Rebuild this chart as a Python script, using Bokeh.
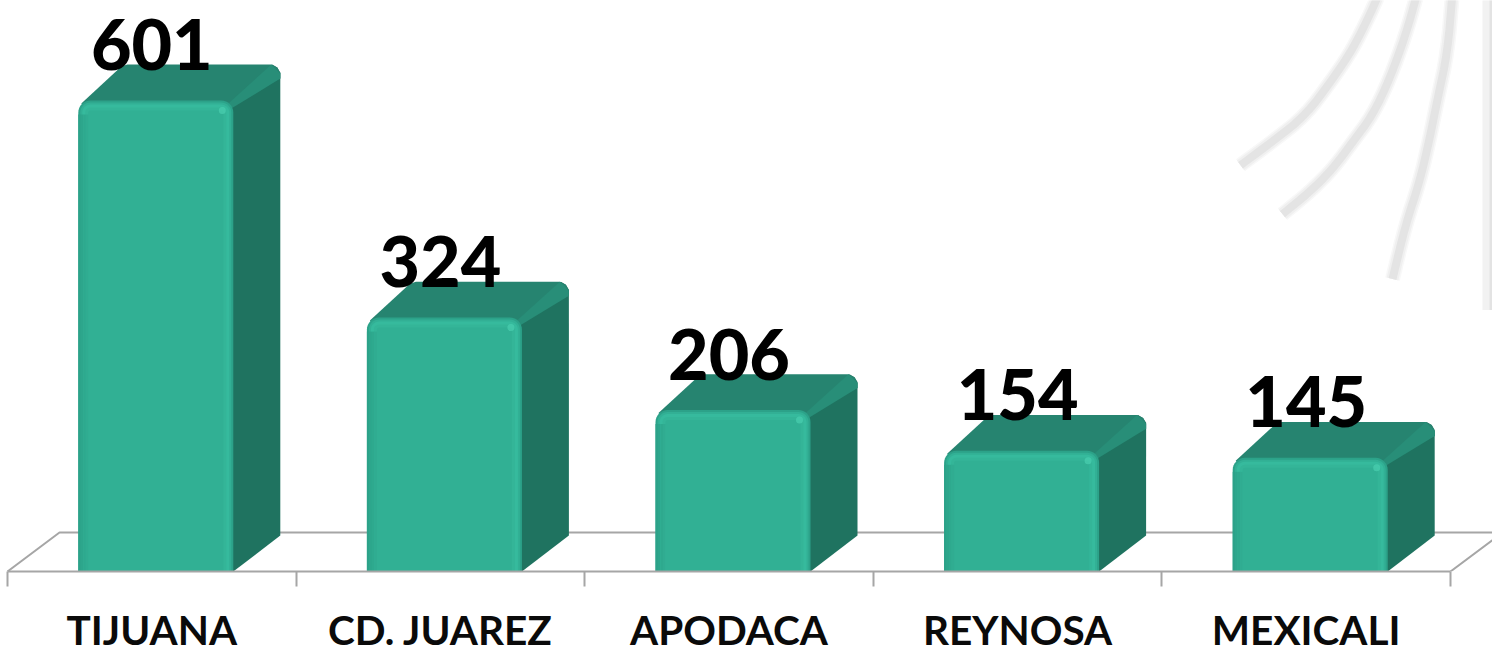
from bokeh.plotting import figure
from bokeh.models import Range1d, LinearAxis, FixedTicker
from bokeh.core.properties import value
from bokeh.embed import file_html
from bokeh.resources import INLINE
import math

categories = ["TIJUANA", "CD. JUAREZ", "APODACA", "REYNOSA", "MEXICALI"]
values = [601, 324, 206, 154, 145]
watermark_curves = [
    [(1387, 0), (1377, 23), (1360, 57), (1340, 87), (1313, 123), (1283, 147), (1248, 173)],
    [(1425, 0), (1413, 43), (1397, 87), (1380, 123), (1360, 150), (1340, 177), (1317, 200), (1290, 222)],
    [(1460, 0), (1455, 60), (1445, 107), (1437, 147), (1427, 190), (1413, 233), (1400, 287)],
]

FIG_W, FIG_H = 1492, 656
PAGE = 8
CAT_PX = 288.6
BASE_Y = 580           # page y of the zero line
CAT0_X = 159.3         # page x of the first category centre
PX_PER_UNIT = 0.785    # vertical pixels per value unit
FRAME_H = BASE_Y - PAGE
ymax = FRAME_H / PX_PER_UNIT

x0 = (PAGE - CAT0_X) / CAT_PX
x1 = (PAGE + FIG_W - CAT0_X) / CAT_PX

p = figure(width=FIG_W, height=FIG_H, output_backend="svg", toolbar_location=None,
           x_range=Range1d(x0, x1), y_range=Range1d(0, ymax),
           x_axis_location=None, y_axis_location=None,
           min_border_left=0, min_border_right=0, min_border_top=0,
           min_border_bottom=FIG_H - FRAME_H,
           background_fill_color="white", border_fill_color="white", outline_line_color=None)
p.grid.visible = False

GRAY = "#A6A6A6"
ax = LinearAxis(ticker=FixedTicker(ticks=list(range(len(categories))),
                                   minor_ticks=[i - 0.5 for i in range(len(categories) + 1)]),
                bounds=(-0.5, len(categories) - 0.5))
ax.major_label_overrides = {i: c for i, c in enumerate(categories)}
ax.axis_line_color = GRAY
ax.axis_line_width = 2
ax.major_tick_line_color = None
ax.major_tick_out = 0
ax.major_tick_in = 0
ax.minor_tick_line_color = GRAY
ax.minor_tick_line_width = 2
ax.minor_tick_out = 15
ax.minor_tick_in = 0
ax.major_label_standoff = 18
ax.major_label_text_font = "Lato"
ax.major_label_text_font_style = "bold"
ax.major_label_text_font_size = "40.5px"
ax.major_label_text_color = "#0A0A0A"
p.add_layout(ax, "below")


def dx(px):
    return px / CAT_PX


def dy(px):
    return px / PX_PER_UNIT


def page_pt(x, y):
    return (x - CAT0_X) / CAT_PX, (BASE_Y - y) / PX_PER_UNIT


def chaikin(pts):
    out = [pts[0]]
    for a, b in zip(pts[:-1], pts[1:]):
        out.append((a[0] * .75 + b[0] * .25, a[1] * .75 + b[1] * .25))
        out.append((a[0] * .25 + b[0] * .75, a[1] * .25 + b[1] * .75))
    out.append(pts[-1])
    return out


# watermark
xs, ys = [], []
for c in watermark_curves:
    pts = [page_pt(*q) for q in chaikin(chaikin(c))]
    xs.append([q[0] for q in pts])
    ys.append([q[1] for q in pts])
for width, col in [(15, "#F8F8F8"), (12, "#F0F0F0"), (8, "#E4E4E4")]:
    p.multi_line(xs, ys, line_color=col, line_width=width, line_cap="butt", line_join="round")
bx0, by0 = page_pt(1490, 0)
bx1, by1 = page_pt(1510, 318)
p.quad(left=[bx0], right=[bx1], top=[by0], bottom=[by1], fill_color="#F2F2F2", line_color=None)
bx2, _ = page_pt(1497, 0)
p.quad(left=[bx2], right=[bx1], top=[by0], bottom=[by1], fill_color="#E3E3E3", line_color=None)

# floor
FLOOR_DX, FLOOR_DY = 52, 39
fl = -0.5
fr = len(categories) - 0.5
p.line([fl, fl + dx(FLOOR_DX), fr + dx(FLOOR_DX), fr],
       [0, dy(FLOOR_DY), dy(FLOOR_DY), 0], line_color=GRAY, line_width=2)


def rounded(l, r, t, b, rad):
    """Outline with rounded upper corners, in pixels relative to the data point."""
    px, py = [l], [b]
    for a in range(0, 9):
        th = math.pi / 2 * a / 8
        px.append(l + rad - rad * math.cos(th))
        py.append(t - rad + rad * math.sin(th))
    for a in range(0, 9):
        th = math.pi / 2 * a / 8
        px.append(r - rad + rad * math.sin(th))
        py.append(t - rad + rad * math.cos(th))
    px.append(r)
    py.append(b)
    return px, py


def mix(a, b, t):
    ca = [int(a[i:i + 2], 16) for i in (1, 3, 5)]
    cb = [int(b[i:i + 2], 16) for i in (1, 3, 5)]
    return "#%02X%02X%02X" % tuple(round(u + (v - u) * t) for u, v in zip(ca, cb))


BAR_PX = 155
CENTER_OFF = 4
DEPTH_X, DEPTH_Y = 47, 36
FRONT = "#31B094"
EDGE = "#2CA289"
GLOW = "#36BA9D"
SIDE = "#1F7360"
TOPF = "#268470"
TOPBAND = "#288E78"

for i, v in enumerate(values):
    l = i + dx(CENTER_OFF - BAR_PX / 2)
    r = i + dx(CENTER_OFF + BAR_PX / 2)
    w = BAR_PX
    # side panel, rounded at its upper rear corner; runs under the front face
    side_x = [r - dx(6), r, r + dx(DEPTH_X), r + dx(DEPTH_X), r + dx(DEPTH_X - 3), r + dx(DEPTH_X - 8), r - dx(6)]
    side_y = [0, 0, dy(DEPTH_Y), v + dy(DEPTH_Y - 8), v + dy(DEPTH_Y - 3), v + dy(DEPTH_Y), v - dy(6)]
    p.patch(side_x, side_y, fill_color=SIDE, line_color=None)
    # top face
    top_x = [l + dx(3), l + dx(DEPTH_X - 4), l + dx(DEPTH_X + 2), r + dx(DEPTH_X - 9), r + dx(DEPTH_X - 3), r + dx(DEPTH_X),
             r + dx(DEPTH_X), r - dx(6), l + dx(6)]
    top_y = [v - dy(3), v + dy(DEPTH_Y - 2), v + dy(DEPTH_Y), v + dy(DEPTH_Y), v + dy(DEPTH_Y - 3), v + dy(DEPTH_Y - 9),
             v + dy(DEPTH_Y - 14), v - dy(6), v - dy(6)]
    p.patch(top_x, top_y, fill_color=TOPF, line_color=None)
    band_x = [r - dx(6), r + dx(DEPTH_X - 9), r + dx(DEPTH_X), r + dx(DEPTH_X), r - dx(2)]
    band_y = [v - dy(4), v + dy(DEPTH_Y), v + dy(DEPTH_Y - 9), v + dy(DEPTH_Y - 14), v - dy(8)]
    p.patch(band_x, band_y, fill_color=TOPBAND, line_color=None)
    # front face: nested outlines to suggest the bevel
    steps = [(0, EDGE), (2, mix(EDGE, GLOW, .6)), (4, GLOW), (7, mix(GLOW, FRONT, .5)), (10, FRONT)]
    for inset, col in steps:
        px, py = rounded(0, w - 2 * inset, -inset, -10000, max(12 - inset, 2))
        fx = [l + dx(inset + a) for a in px]
        fy = [max(v + dy(b), 0) for b in py]
        p.patch(fx, fy, fill_color=col, line_color=None)
    # left shade
    for j, t in enumerate([0, .25, .5, .75]):
        p.quad(left=[l + dx(j * 2.5)], right=[l + dx((j + 1) * 2.5)], top=[v - dy(14)], bottom=[0],
               fill_color=mix(EDGE, FRONT, t), line_color=None)
    # corner highlight
    hx = r - dx(11)
    hy = v - dy(10)
    p.scatter([hx], [hy], size=7, marker="circle", fill_color="#4FD3B4", fill_alpha=0.6, line_color=None)

p.text(x=list(range(len(values))), y=values, text=[str(v) for v in values],
       text_font=value("Lato Black"), text_font_size="70px",
       text_color="#000000", text_align="center", text_baseline="alphabetic", y_offset=-56)

open("out.html", "w").write(file_html(p, INLINE))
